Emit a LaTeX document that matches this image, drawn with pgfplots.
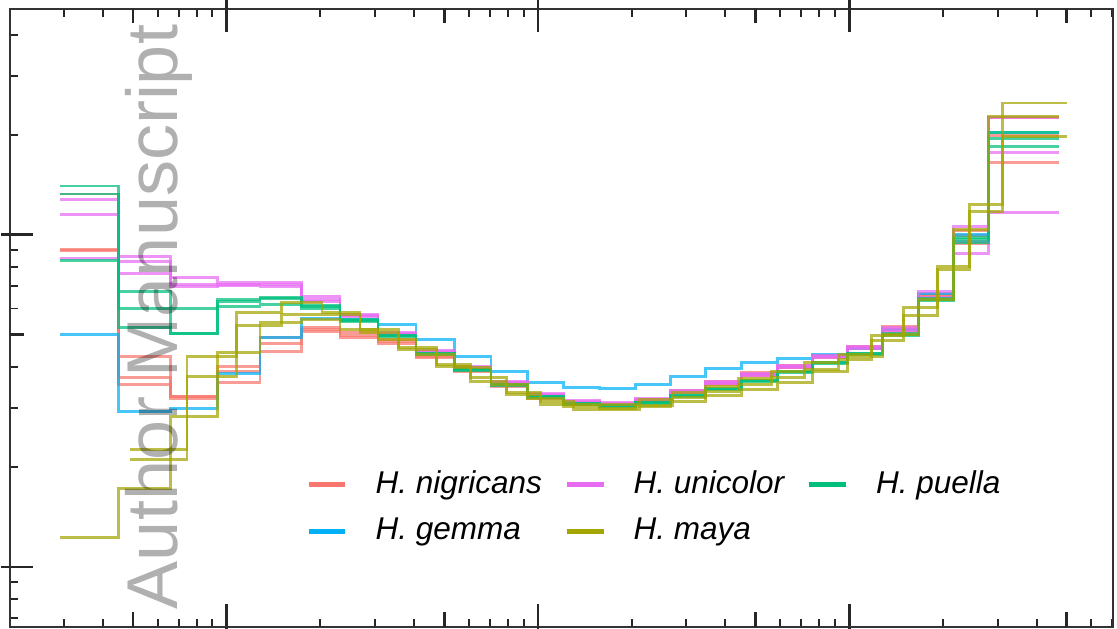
\documentclass[border=0pt]{standalone}
\usepackage{pgfplots}
\pgfplotsset{compat=1.18}
\usepackage{pgfplotstable}
\usepackage{fontspec}
\setmainfont{Liberation Sans}
\usetikzlibrary{calc}

\definecolor{cNig}{HTML}{F8766D}
\definecolor{cGem}{HTML}{00B0F6}
\definecolor{cUni}{HTML}{E76BF3}
\definecolor{cMaya}{HTML}{A3A500}
\definecolor{cPue}{HTML}{00BF7D}

% log10 of bin edge (x) and log10 of density (y), step histograms
\pgfplotstableread{
x      n1     n2     n3     gm     p1     p2     p3     g1     g2     g3     m1
-0.536 -2.045 -2.048 -1.877 -2.301 -1.895 -1.940 -2.072 -1.853 -2.078 -1.877 -2.912
-0.349 -2.367 -2.430 -2.451 -2.533 -2.066 -2.081 -2.117 -2.172 -2.223 -2.280 -2.764
-0.182 -2.487 -2.487 -2.493 -2.524 -2.129 -2.150 -2.156 -2.298 -2.223 -2.298 -2.548
-0.031 -2.397 -2.412 -2.445 -2.418 -2.144 -2.153 -2.150 -2.196 -2.217 -2.202 -2.355
0.107  -2.310 -2.328 -2.352 -2.310 -2.144 -2.156 -2.150 -2.190 -2.211 -2.193 -2.265
0.239  -2.280 -2.286 -2.292 -2.253 -2.187 -2.202 -2.196 -2.214 -2.223 -2.217 -2.256
0.364  -2.295 -2.304 -2.310 -2.256 -2.241 -2.247 -2.244 -2.256 -2.262 -2.259 -2.286
0.486  -2.316 -2.322 -2.328 -2.271 -2.295 -2.301 -2.298 -2.304 -2.307 -2.304 -2.316
0.608  -2.361 -2.367 -2.370 -2.316 -2.349 -2.355 -2.352 -2.358 -2.361 -2.358 -2.361
0.731  -2.406 -2.409 -2.412 -2.367 -2.397 -2.400 -2.400 -2.406 -2.409 -2.406 -2.400
0.849  -2.451 -2.454 -2.457 -2.412 -2.442 -2.445 -2.445 -2.451 -2.454 -2.451 -2.451
0.965  -2.487 -2.490 -2.493 -2.445 -2.478 -2.481 -2.484 -2.487 -2.490 -2.487 -2.493
1.081  -2.506 -2.509 -2.512 -2.460 -2.500 -2.503 -2.506 -2.509 -2.512 -2.509 -2.518
1.197  -2.512 -2.515 -2.518 -2.463 -2.506 -2.509 -2.512 -2.515 -2.518 -2.515 -2.524
1.312  -2.497 -2.500 -2.503 -2.451 -2.493 -2.497 -2.500 -2.506 -2.509 -2.506 -2.518
1.425  -2.469 -2.475 -2.475 -2.427 -2.469 -2.472 -2.475 -2.484 -2.487 -2.484 -2.503
1.537  -2.442 -2.448 -2.451 -2.403 -2.442 -2.445 -2.448 -2.463 -2.466 -2.463 -2.484
1.653  -2.415 -2.421 -2.424 -2.385 -2.418 -2.421 -2.424 -2.439 -2.442 -2.439 -2.466
1.769  -2.394 -2.400 -2.400 -2.373 -2.394 -2.397 -2.400 -2.412 -2.415 -2.412 -2.445
1.881  -2.364 -2.370 -2.367 -2.361 -2.364 -2.367 -2.370 -2.385 -2.388 -2.385 -2.412
1.994  -2.337 -2.343 -2.340 -2.343 -2.337 -2.340 -2.343 -2.358 -2.361 -2.358 -2.367
2.106  -2.277 -2.289 -2.286 -2.286 -2.280 -2.286 -2.292 -2.301 -2.304 -2.298 -2.301
2.222  -2.181 -2.190 -2.184 -2.178 -2.172 -2.190 -2.196 -2.196 -2.199 -2.193 -2.196
2.334  -1.988 -2.027 -2.003 -2.000 -1.976 -2.021 -2.057 -2.015 -2.024 -2.009 -1.985
2.447  -1.702 -1.783 -1.648 -1.693 -1.648 -1.753 -1.934 -1.711 -1.735 -1.693 -1.645
2.675  -1.702 -1.783 -1.648 -1.693 -1.648 -1.753 -1.934 -1.711 -1.735 -1.693 -1.645
}\stdbins

% H. maya runs with their own bins
\pgfplotstableread{
x      m2     m3
-0.311 -2.647 -2.677
-0.128 -2.367 -2.427
0.030  -2.235 -2.274
0.175  -2.205 -2.241
0.306  -2.235 -2.241
0.428  -2.286 -2.295
0.551  -2.340 -2.346
0.673  -2.391 -2.397
0.782  -2.430 -2.442
0.898  -2.475 -2.481
1.007  -2.503 -2.512
1.113  -2.512 -2.527
1.219  -2.512 -2.527
1.325  -2.497 -2.515
1.431  -2.475 -2.490
1.537  -2.457 -2.472
1.643  -2.433 -2.451
1.749  -2.412 -2.430
1.855  -2.385 -2.406
1.965  -2.361 -2.376
2.071  -2.304 -2.319
2.174  -2.220 -2.244
2.283  -2.096 -2.105
2.386  -1.910 -1.931
2.492  -1.603 -1.705
2.701  -1.603 -1.705
}\mayabins

\pgfplotsset{
  hbox/.style={width=367.8pt, height=205.9pt, scale only axis,
    xmin=-0.6965, xmax=2.8485, ymin=-3.180, ymax=-1.320,
    xticklabels={}, yticklabels={}, ytick pos=left, xtick pos=both},
  hist/.style={const plot, line width=0.95pt, draw opacity=0.72, forget plot},
}

\begin{document}
\begin{tikzpicture}
\begin{axis}[hbox,
    axis line style={black!80, line width=0.65pt},
    tick align=inside,
    xtick={0,1,2}, ytick={-3,-2},
    minor xtick={-0.523,-0.398,-0.222,-0.155,-0.097,-0.046,0.301,0.477,0.602,0.778,0.845,0.903,0.954,1.301,1.477,1.602,1.778,1.845,1.903,1.954,2.301,2.477,2.602,2.778,2.845},
    minor ytick={-3.155,-3.097,-3.046,-2.699,-2.523,-2.398,-2.222,-2.155,-2.097,-2.046,-1.699,-1.523,-1.398},
    extra x ticks={-0.301,0.699,1.699,2.699},
    extra y ticks={-2.301},
    extra x tick labels={}, extra y tick labels={},
    extra tick style={major tick length=4.8pt},
    major tick length=7.7pt, minor tick length=2.6pt,
    major tick style={black!85, line width=0.9pt},
    minor tick style={black!85, line width=0.65pt},
    legend columns=3, legend cell align=left,
    legend style={draw=none, fill=none, inner sep=0pt, outer sep=0pt,
      nodes={inner sep=0pt},
      at={(0.2683,0.2517)}, anchor=north west,
      font=\fontsize{10.5}{12.6}\selectfont\itshape, row sep=6.6pt,
      /tikz/every odd column/.append style={column sep=9.2pt},
      /tikz/every even column/.append style={column sep=7.4pt}},
    legend image code/.code={\draw (0pt,0pt) -- (12.3pt,0pt);},
]
\addlegendimage{cNig, line width=1.7pt}
\addlegendentry{H. nigricans}
\addlegendimage{cUni, line width=1.7pt}
\addlegendentry{H. unicolor}
\addlegendimage{cPue, line width=1.7pt}
\addlegendentry{H. puella}
\addlegendimage{cGem, line width=1.7pt}
\addlegendentry{H. gemma}
\addlegendimage{cMaya, line width=1.7pt}
\addlegendentry{H. maya}

% H. nigricans
\addplot[hist, cNig] table[x=x, y=n1] {\stdbins};
\addplot[hist, cNig] table[x=x, y=n2] {\stdbins};
\addplot[hist, cNig] table[x=x, y=n3] {\stdbins};
% H. gemma
\addplot[hist, cGem] table[x=x, y=gm] {\stdbins};
% H. unicolor
\addplot[hist, cUni] table[x=x, y=p1] {\stdbins};
\addplot[hist, cUni] table[x=x, y=p2] {\stdbins};
\addplot[hist, cUni] table[x=x, y=p3] {\stdbins};
% H. puella
\addplot[hist, cPue] table[x=x, y=g1] {\stdbins};
\addplot[hist, cPue] table[x=x, y=g2] {\stdbins};
\addplot[hist, cPue] table[x=x, y=g3] {\stdbins};
% H. maya
\addplot[hist, cMaya] table[x=x, y=m1] {\stdbins};
\addplot[hist, cMaya] table[x=x, y=m2] {\mayabins};
\addplot[hist, cMaya] table[x=x, y=m3] {\mayabins};

\node[rotate=90, anchor=base west, inner sep=0pt, text=black, text opacity=0.31,
  font=\fontsize{24}{24}\selectfont] at (rel axis cs:0.1514,0.0275) {Author Manuscript};
\end{axis}

% outer half of the decade ticks
\begin{axis}[hbox,
    axis line style={draw=none},
    tick align=outside,
    xtick={0,1,2}, ytick={-3,-2},
    minor xtick={}, minor ytick={},
    major tick length=3pt,
    major tick style={black!85, line width=0.9pt},
]
\end{axis}

\pgfresetboundingbox
\path[use as bounding box] ($(current axis.south west)+(-3.33pt,-0.77pt)$)
  rectangle ($(current axis.north east)+(1.23pt,3pt)$);
\end{tikzpicture}
\end{document}
